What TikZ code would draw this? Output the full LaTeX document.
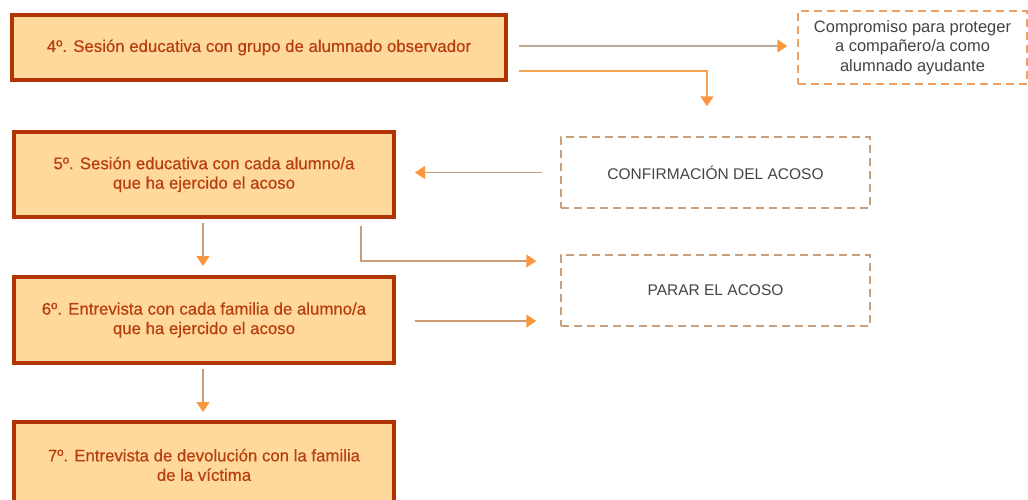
\documentclass[tikz,border=0pt]{standalone}
\usepackage{fontspec}
\setmainfont{Liberation Sans}
\newfontfamily\stepfont{Liberation Sans}[FakeBold=0.5]
\usetikzlibrary{arrows.meta}
\definecolor{boxfill}{RGB}{255,217,156}
\definecolor{boxedge}{RGB}{178,52,4}
\definecolor{boxtext}{RGB}{183,62,14}
\definecolor{dashorange}{RGB}{240,160,96}
\definecolor{dashtan}{RGB}{200,160,125}
\definecolor{linetan}{RGB}{205,155,115}
\definecolor{linegray}{RGB}{190,168,150}
\definecolor{lineorange}{RGB}{244,162,84}
\definecolor{headorange}{RGB}{250,150,62}
\definecolor{notetext}{RGB}{68,68,68}
\begin{document}
\begin{tikzpicture}[x=1pt, y=-1pt, >={Triangle[length=10pt,width=13pt,color=headorange]}]
\useasboundingbox (0,0) rectangle (1028,499);
\begin{scope}[every node/.style={draw=boxedge, line width=4pt, fill=boxfill, text=boxtext,
    font=\stepfont\fontsize{16.8}{19.5}\selectfont, align=center, inner sep=0pt,
    minimum width=380pt, minimum height=86pt}]
    \node (s4) at (259,47.5) [minimum width=494pt, minimum height=65pt] {4º. Sesión educativa con grupo de alumnado observador};
    \node (s5) at (204,174.5) [minimum height=85pt] {5º. Sesión educativa con cada alumno/a\\que ha ejercido el acoso};
    \node (s6) at (204,320) {6º. Entrevista con cada familia de alumno/a\\que ha ejercido el acoso};
    \node (s7) at (204,465) {7º. Entrevista de devolución con la familia\\de la víctima};
\end{scope}

\begin{scope}[every node/.style={draw=dashtan, dash pattern=on 8pt off 5pt, line width=1.5pt,
    text=notetext, font=\fontsize{15.5}{19.5}\selectfont, align=center, inner sep=0pt,
    minimum width=309pt, minimum height=71pt}]
    \node (comp) at (912.5,47.5) [draw=dashorange, font=\fontsize{16.5}{19.5}\selectfont, minimum width=229pt, minimum height=73pt] {Compromiso para proteger\\a compañero/a como\\alumnado ayudante};
    \node (conf) at (715.5,172.5) {CONFIRMACIÓN DEL ACOSO};
    \node (parar) at (715.5,290.5) {PARAR EL ACOSO};
\end{scope}

\begin{scope}[line width=1.8pt]
    \draw [->, linegray, shorten <=11pt, shorten >=10pt] ([yshift=1.5pt]s4.east) -- ([yshift=1.5pt]comp.west);
    \draw [->, lineorange, shorten <=11pt, shorten >=30pt] ([yshift=-23.5pt]s4.east) -| ([xshift=-8.5pt]conf.north);
    \draw [->, linetan, shorten <=18pt, shorten >=19pt] (conf.west) -- (conf.west -| s5.east);
    \draw [->, linetan, shorten <=4pt, shorten >=9pt] ([xshift=-1pt]s5.south) -- ([xshift=-1pt]s6.north);
    \draw [->, linetan, shorten <=7pt, shorten >=24pt] ([xshift=-35pt]s5.south east) |- ([yshift=29.5pt]parar.west);
    \draw [->, linetan, shorten <=19pt, shorten >=24pt] ([yshift=-1pt]s6.east) -- ([yshift=-1pt]s6.east -| parar.west);
    \draw [->, linetan, shorten <=4pt, shorten >=8pt] ([xshift=-1pt]s6.south) -- ([xshift=-1pt]s7.north);
\end{scope}
\end{tikzpicture}
\end{document}
